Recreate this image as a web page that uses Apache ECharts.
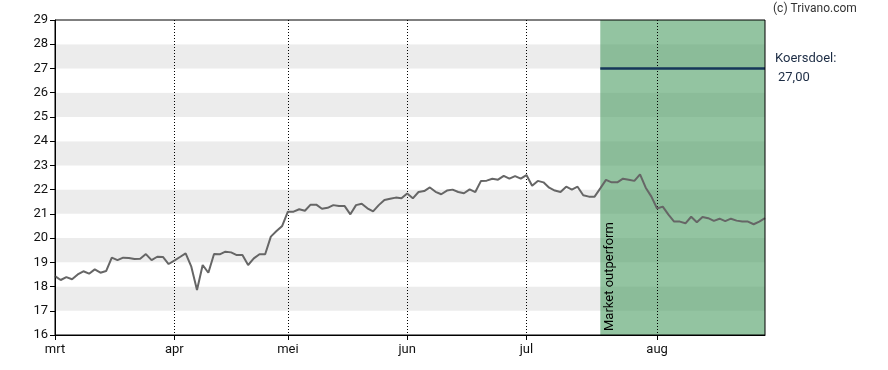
<!DOCTYPE html>
<html>
<head>
<meta charset="utf-8">
<script src="https://cdn.jsdelivr.net/npm/echarts@6/dist/echarts.min.js"></script>
<style>html,body{margin:0;padding:0;background:#fff}#c{width:888px;height:370px}</style>
</head>
<body>
<div id="c"></div>
<script>
// Month labels and number of trading days in each month
const monthNames = ['mrt', 'apr', 'mei', 'jun', 'jul', 'aug'];
const monthDays = [21, 20, 21, 21, 23, 20];
// Closing prices per trading day
const prices = [
  18.43, 18.27, 18.39, 18.30, 18.50, 18.63, 18.53, 18.71, 18.57, 18.64,
  19.19, 19.09, 19.19, 19.18, 19.14, 19.15, 19.34, 19.09, 19.23, 19.22,
  18.93, 19.07, 19.22, 19.37, 18.82, 17.86, 18.89, 18.57, 19.34, 19.33,
  19.44, 19.41, 19.30, 19.30, 18.89, 19.16, 19.33, 19.33, 20.06, 20.29,
  20.50, 21.09, 21.09, 21.19, 21.13, 21.38, 21.38, 21.21, 21.25, 21.36,
  21.32, 21.32, 20.98, 21.36, 21.42, 21.23, 21.10, 21.36, 21.57, 21.62,
  21.67, 21.64, 21.84, 21.64, 21.90, 21.94, 22.09, 21.91, 21.81, 21.96,
  22.00, 21.90, 21.85, 22.01, 21.90, 22.36, 22.37, 22.45, 22.41, 22.57,
  22.45, 22.56, 22.45, 22.60, 22.16, 22.36, 22.30, 22.08, 21.96, 21.90,
  22.12, 22.00, 22.12, 21.77, 21.71, 21.71, 22.05, 22.40, 22.30, 22.30,
  22.45, 22.41, 22.36, 22.63, 22.08, 21.71, 21.22, 21.30, 20.97, 20.68,
  20.68, 20.61, 20.88, 20.65, 20.87, 20.82, 20.71, 20.80, 20.70, 20.80,
  20.72, 20.68, 20.68, 20.57, 20.68, 20.82
];
// Rating period start (trading day index) and price target
const ratingStart = 96;
const ratingLabel = 'Market outperform';
const targetValue = 27.00;
const targetText = '27,00';
const yTicks = { min: 16, max: 29, step: 1 };

const categories = [];
monthNames.forEach((m, mi) => {
  for (let d = 1; d <= monthDays[mi]; d++) categories.push(m + '-' + d);
});
const lastIdx = categories.length - 1;
const targetData = categories.map((c, i) => i >= ratingStart ? targetValue : '-');
const isMonthStart = (idx, val) => String(val).endsWith('-1');
const FONT = 'Roboto';

const chart = echarts.init(document.getElementById('c'));
chart.setOption({
  animation: false,
  textStyle: { fontFamily: FONT },
  grid: { left: 55, right: 123, top: 20, bottom: 35, show: true, borderColor: '#000', borderWidth: 1, backgroundColor: 'transparent', z: 3 },
  xAxis: {
    type: 'category', data: categories, boundaryGap: false, z: 1.5,
    axisLine: { lineStyle: { color: '#000', width: 1 } },
    axisTick: { show: true, interval: isMonthStart, length: 5, lineStyle: { color: '#000' } },
    axisLabel: { interval: isMonthStart, formatter: v => v.split('-')[0], color: '#111', fontSize: 13, fontFamily: FONT, margin: 8 },
    splitLine: { show: true, interval: isMonthStart, lineStyle: { color: '#000', type: [1, 2], width: 1 } }
  },
  yAxis: {
    type: 'value', min: yTicks.min, max: yTicks.max, interval: yTicks.step,
    axisLine: { show: true, lineStyle: { color: '#000', width: 1 } },
    axisTick: { show: true, length: 5, lineStyle: { color: '#000' } },
    axisLabel: { color: '#111', fontSize: 13, fontFamily: FONT, margin: 7 },
    splitLine: { show: false },
    splitArea: { show: true, areaStyle: { color: ['#ffffff', '#ececec'] } }
  },
  series: [
    {
      type: 'line', data: prices, symbol: 'none', z: 2,
      lineStyle: { color: '#666666', width: 2 },
      markArea: {
        silent: true,
        itemStyle: { color: 'rgba(69,153,93,0.58)' },
        data: [[{ xAxis: ratingStart, yAxis: yTicks.min }, { xAxis: lastIdx, yAxis: yTicks.max }]]
      }
    },
    {
      type: 'line', data: targetData, symbol: 'none', z: 2.5,
      lineStyle: { color: '#163659', width: 2.5 }
    }
  ]
});

function addGraphics() {
  const p = chart.convertToPixel({ gridIndex: 0 }, [ratingStart, yTicks.min]);
  const t = chart.convertToPixel({ gridIndex: 0 }, [lastIdx, targetValue]);
  chart.setOption({
    graphic: [
      { type: 'text', left: 773, top: 3, style: { text: '(c) Trivano.com', font: '12px Roboto', fill: '#333' } },
      { type: 'text', x: t[0] + 10, y: t[1] - 16, style: { text: 'Koersdoel:', font: '13px Roboto', fill: '#1c2c44' } },
      { type: 'text', x: t[0] + 13, y: t[1] + 3, style: { text: targetText, font: '13px Roboto', fill: '#1c2c44' } },
      { type: 'text', x: p[0] + 3, y: p[1] - 4, rotation: Math.PI / 2, style: { text: ratingLabel, font: '13px Roboto', fill: '#000', align: 'left', verticalAlign: 'top' }, z: 10 }
    ]
  });
}
addGraphics();
</script>
</body>
</html>
